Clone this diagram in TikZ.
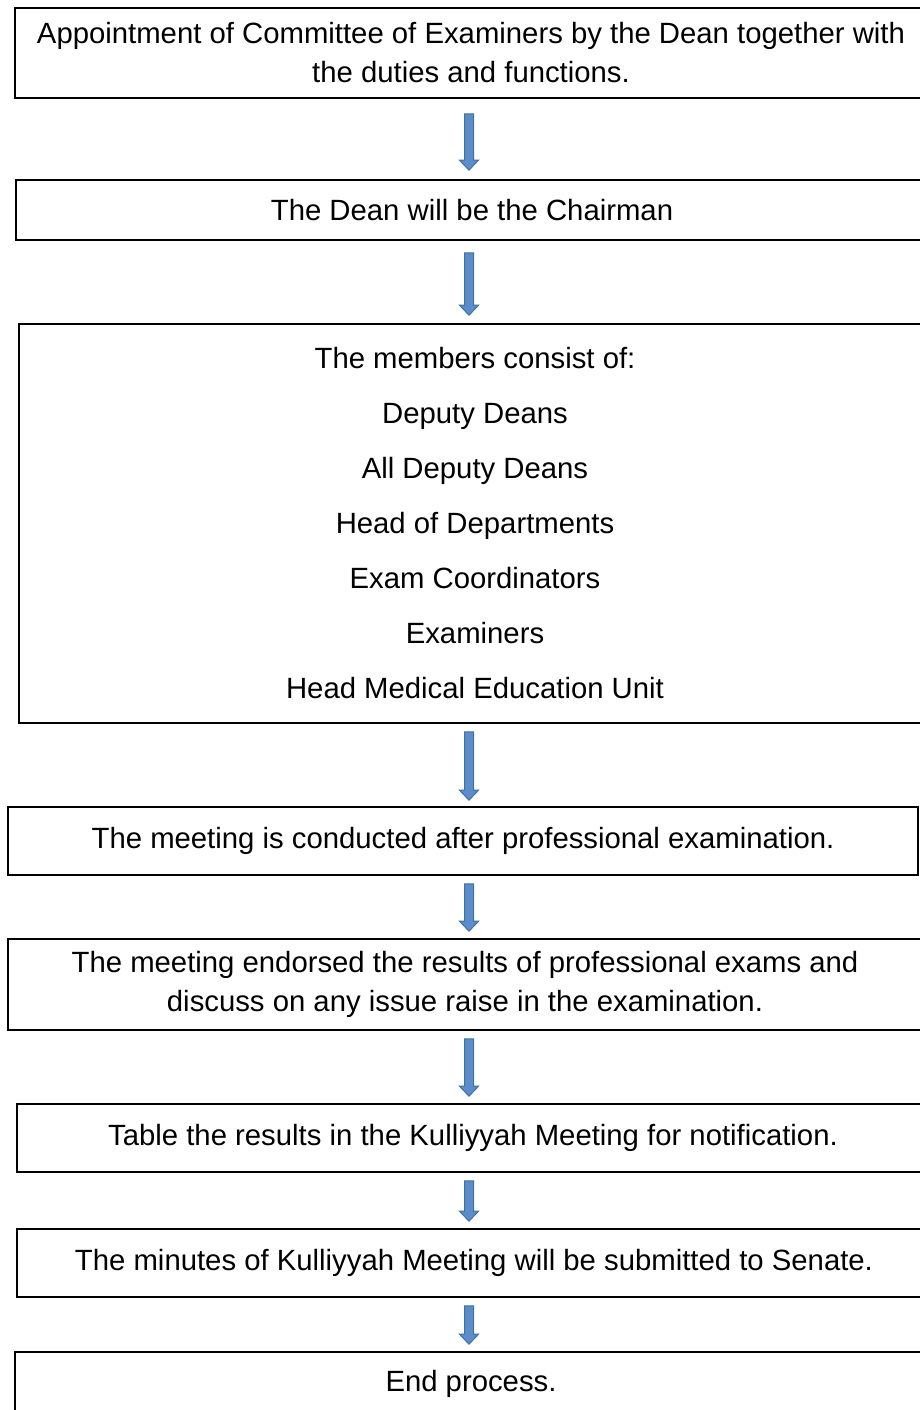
\documentclass[tikz,border=0pt]{standalone}
\usepackage{fontspec}
\setmainfont{Liberation Sans}
\usetikzlibrary{calc}
\definecolor{arrowfill}{HTML}{5B8DCB}
\definecolor{arrowline}{HTML}{41719C}
\tikzset{
  stepbox/.style={draw, line width=1.6pt, inner sep=0pt, align=center, font=\fontsize{29.3}{39}\selectfont},
  listbox/.style={stepbox, font=\fontsize{29.3}{55}\selectfont},
  blockarrow/.style={fill=arrowfill, draw=arrowline, line width=1pt}
}
% block arrow from one box down to the next: from, to, gap below, gap above
\newcommand\flowarrow[4]{%
  \filldraw[blockarrow] let \p1=($(#1.south -| axis)+(0,#3)$), \p2=($(#2.north -| axis)-(0,#4)$) in
    (\x1-4.5pt,\y1) -- (\x1+4.5pt,\y1) -- (\x1+4.5pt,\y2+10pt) -- (\x1+9.5pt,\y2+10pt)
    -- (\x1,\y2) -- (\x1-9.5pt,\y2+10pt) -- (\x1-4.5pt,\y2+10pt) -- cycle;
}
\begin{document}
\begin{tikzpicture}[x=1pt, y=-1pt]
    \useasboundingbox (0,0) rectangle (919,1410);
    \coordinate (axis) at (469,0);

    %Appointment
    \node[stepbox, minimum width=912pt, minimum height=90pt] (appoint) at (471,53)
        {Appointment of Committee of Examiners by the Dean together with\\the duties and functions.};
    %Chairman
    \node[stepbox, minimum width=912pt, minimum height=60pt] (chair) at (472,210)
        {The Dean will be the Chairman};
    %Members
    \node[listbox, minimum width=912pt, minimum height=399pt] (members) at (475,523.5)
        {The members consist of:\\Deputy Deans\\All Deputy Deans\\Head of Departments\\Exam Coordinators\\Examiners\\Head Medical Education Unit};
    %Meeting
    \node[stepbox, minimum width=910pt, minimum height=68pt] (conduct) at (463,841)
        {The meeting is conducted after professional examination.};
    \node[stepbox, minimum width=914pt, minimum height=91pt] (endorse) at (465,984.5)
        {The meeting endorsed the results of professional exams and\\discuss on any issue raise in the examination.};
    %Kulliyyah
    \node[stepbox, minimum width=912pt, minimum height=68pt] (table) at (473,1138)
        {Table the results in the Kulliyyah Meeting for notification.};
    \node[stepbox, minimum width=914pt, minimum height=68pt] (minutes) at (474,1263)
        {The minutes of Kulliyyah Meeting will be submitted to Senate.};
    %End
    \node[stepbox, minimum width=912pt, minimum height=64pt] (endproc) at (471,1384)
        {End process.};

    \flowarrow{appoint}{chair}{15}{9}
    \flowarrow{chair}{members}{12}{8}
    \flowarrow{members}{conduct}{8}{6}
    \flowarrow{conduct}{endorse}{8}{7}
    \flowarrow{endorse}{table}{8}{7}
    \flowarrow{table}{minutes}{8}{7}
    \flowarrow{minutes}{endproc}{8}{7}
\end{tikzpicture}
\end{document}
